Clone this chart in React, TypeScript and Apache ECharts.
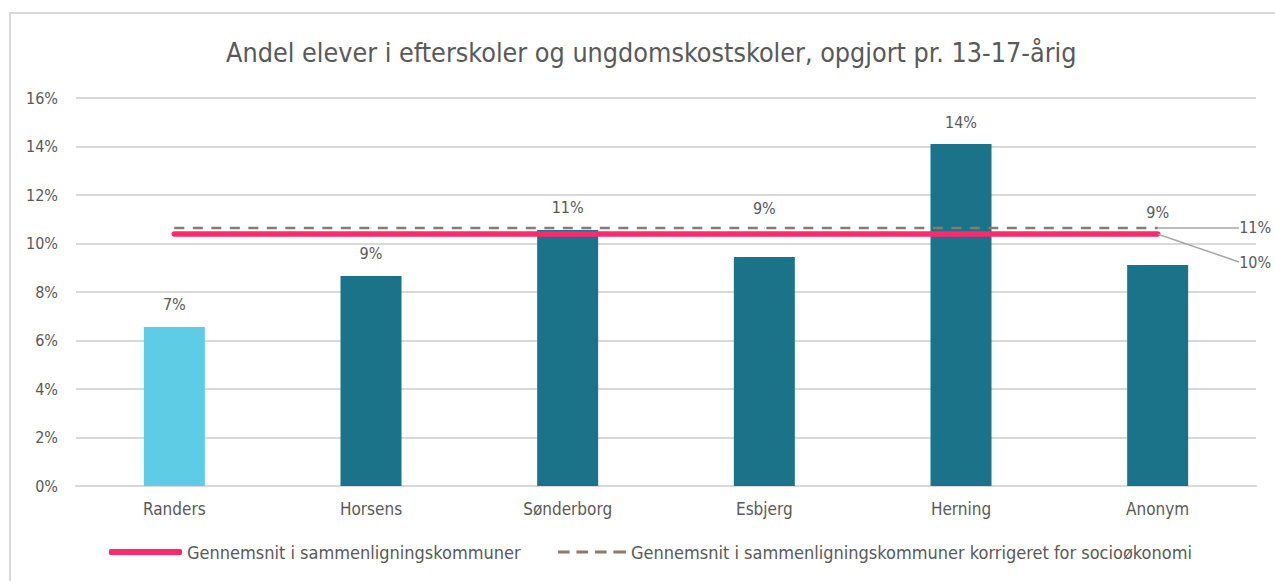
import React, { useEffect, useRef } from "react";
import * as echarts from "echarts";

const categories = ["Randers", "Horsens", "Sønderborg", "Esbjerg", "Herning", "Anonym"];
const shares = [6.56, 8.66, 10.56, 9.44, 14.1, 9.11];
const avgName = "Gennemsnit i sammenligningskommuner";
const adjName = "Gennemsnit i sammenligningskommuner korrigeret for socioøkonomi";
const avgValue = 10.39;
const adjValue = 10.64;
const avgLabel = "10%";
const adjLabel = "11%";
const yTicks = [0, 16, 2];

const FONT = "'Liberation Sans Narrow', 'DejaVu Sans Condensed', 'Liberation Sans', sans-serif";
const TXT = "#595959";
const RED = "#FF2A6D";
const DASH = "#8B7A72";

export default function App() {
  const ref = useRef<HTMLDivElement>(null);
  useEffect(() => {
    if (!ref.current) return;
    const chart = echarts.init(ref.current, undefined, { renderer: "svg" });
    const labelOffsets: Record<number, number> = { 3: -27, 5: -31 };
    const barData = shares.map((v, i) => ({
      value: v,
      itemStyle: { color: i === 0 ? "#5ECCE4" : "#1A7388" },
      label: labelOffsets[i] !== undefined ? { offset: [0, labelOffsets[i]] } : undefined,
    }));
    const last = categories.length - 1;
    const lineData = (val: number, lbl: string) =>
      categories.map((_, i) =>
        i === last
          ? {
              value: val,
              label: {
                show: true,
                position: "right",
                formatter: lbl,
                fontSize: 16,
                fontFamily: FONT,
                color: TXT,
              },
            }
          : val
      );
    const legendText = { fontSize: 18, color: TXT, fontFamily: FONT };
    chart.setOption({
      animation: false,
      textStyle: { fontFamily: FONT },
      title: {
        text: "Andel elever i efterskoler og ungdomskostskoler, opgjort pr. 13-17-årig",
        left: 221,
        top: 34,
        textStyle: { fontSize: 26.7, fontWeight: "normal", color: TXT, fontFamily: FONT },
      },
      graphic: [
        {
          type: "rect",
          shape: { x: 10, y: 13, width: 1300, height: 620 },
          style: { fill: "none", stroke: "#D9D9D9", lineWidth: 2 },
          silent: true,
        },
      ],
      legend: [
        {
          left: 104,
          bottom: 15,
          itemWidth: 73,
          itemHeight: 6,
          itemGap: 4,
          symbolKeepAspect: false,
          textStyle: legendText,
          data: [{ name: avgName, icon: "roundRect", itemStyle: { color: RED } }],
        },
        {
          left: 553,
          bottom: 15,
          itemWidth: 68,
          itemHeight: 3,
          symbolKeepAspect: false,
          textStyle: legendText,
          data: [
            {
              name: adjName,
              icon: "path://M0,0h12v3h-12zM19,0h12v3h-12zM38,0h12v3h-12zM57,0h13v3h-13z",
              itemStyle: { color: DASH },
            },
          ],
        },
      ],
      grid: { left: 76, right: 19, top: 98, bottom: 95, containLabel: false },
      xAxis: {
        type: "category",
        data: categories,
        axisLine: { lineStyle: { color: "#D9D9D9", width: 2 } },
        axisTick: { show: false },
        axisLabel: { fontSize: 17, color: TXT, margin: 14, fontFamily: FONT },
      },
      yAxis: {
        type: "value",
        min: yTicks[0],
        max: yTicks[1],
        interval: yTicks[2],
        axisLine: { show: false },
        axisLabel: { formatter: "{value}%", fontSize: 16, color: TXT, margin: 18, fontFamily: FONT },
        splitLine: { lineStyle: { color: "#D9D9D9", width: 2 } },
      },
      series: [
        {
          type: "bar",
          data: barData,
          barWidth: 61,
          label: {
            show: true,
            position: "top",
            distance: 14,
            fontSize: 16,
            color: TXT,
            fontFamily: FONT,
            formatter: (p: any) => Math.round(p.value) + "%",
          },
          z: 2,
        },
        {
          name: adjName,
          type: "line",
          data: lineData(adjValue, adjLabel),
          symbol: "circle",
          symbolSize: 1,
          showSymbol: true,
          lineStyle: { color: DASH, width: 2.5, type: [10, 8.5] },
          itemStyle: { color: DASH },
          labelLine: { show: true, lineStyle: { color: "#A6A6A6", width: 1.5 } },
          labelLayout: { dx: 76, dy: 0 },
          z: 3,
        },
        {
          name: avgName,
          type: "line",
          data: lineData(avgValue, avgLabel),
          symbol: "circle",
          symbolSize: 1,
          showSymbol: true,
          lineStyle: { color: RED, width: 5.5, cap: "round" },
          itemStyle: { color: RED },
          labelLine: { show: true, lineStyle: { color: "#A6A6A6", width: 1.5 } },
          labelLayout: { dx: 76, dy: 28 },
          z: 4,
        },
      ],
    });
    return () => chart.dispose();
  }, []);
  return (
    <div
      ref={ref}
      style={{ position: "fixed", left: 0, top: 0, width: 1275, height: 581, background: "#fff" }}
    />
  );
}
